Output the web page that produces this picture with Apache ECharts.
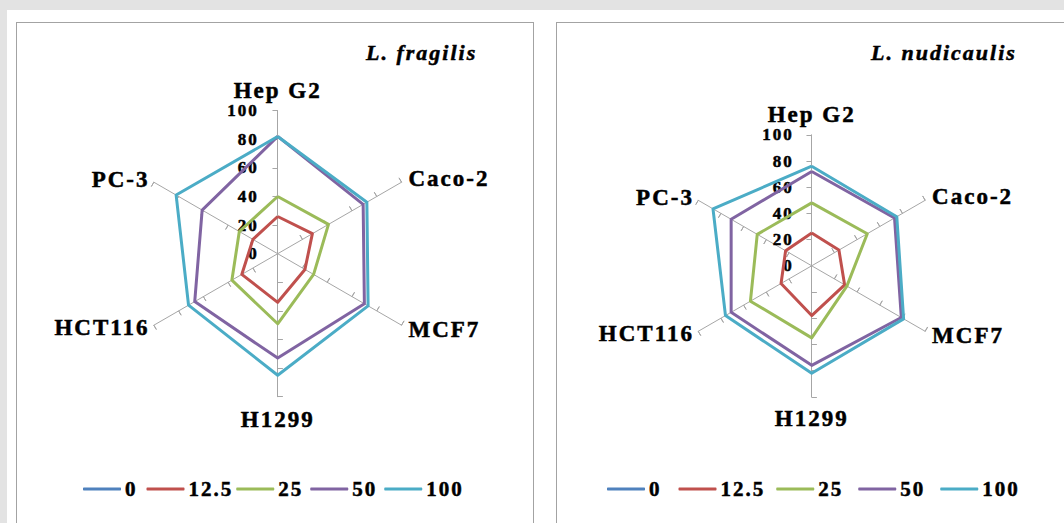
<!DOCTYPE html>
<html>
<head>
<meta charset="utf-8">
<script src="https://cdn.jsdelivr.net/npm/echarts@6/dist/echarts.min.js"></script>
<style>
html,body{margin:0;padding:0;width:1064px;height:523px;overflow:hidden;background:#e3e3e3;}
#sheet{position:absolute;left:7px;top:10px;width:1057px;height:513px;background:#fff;}
.panel{position:absolute;top:22px;width:518px;height:512px;border:1px solid #a3a3a3;box-sizing:border-box;background:#fff;}
#c1{left:16px;}
#c2{left:556px;}
.panel text{letter-spacing:2px;font-family:'Liberation Serif',serif !important;font-weight:bold !important;stroke:#000;stroke-width:0.5px;}
</style>
</head>
<body>
<div id="sheet"></div>
<div id="c1" class="panel"></div>
<div id="c2" class="panel"></div>
<script>
// ---- data (clockwise from top, as in the picture) ----
const categories = ['Hep G2', 'Caco-2', 'MCF7', 'H1299', 'HCT116', 'PC-3'];
const seriesNames = ['0', '12.5', '25', '50', '100'];
const axisMin = 0;
const axisMax = 100;
const axisInterval = 20;
const tickMarks = [20, 40, 60, 80, 100];

const titles = ['L. fragilis', 'L. nudicaulis'];

// L. fragilis
const fragilis_0    = [0, 0, 0, 0, 0, 0];
const fragilis_12_5 = [26, 28, 22, 34, 29, 20];
const fragilis_25   = [40, 41, 29, 49, 37, 31];
const fragilis_50   = [82, 69, 70, 73, 67, 61];
const fragilis_100  = [82, 72, 73, 85, 72, 82];

// L. nudicaulis
const nudicaulis_0    = [0, 0, 0, 0, 0, 0];
const nudicaulis_12_5 = [25, 24, 29, 38, 27, 23];
const nudicaulis_25   = [48, 49, 31, 55, 54, 48];
const nudicaulis_50   = [72, 73, 79, 76, 71, 71];
const nudicaulis_100  = [76, 75, 81, 82, 76, 87];

// ---- styles ----
const colors = ['#4F81BD', '#C0504D', '#9BBB59', '#8064A2', '#4BACC6'];
const FONT = 'Liberation Serif';
const AXIS_COLOR = '#a6a6a6';

// ECharts places radar indicators counter-clockwise from the top
const order = [0, 5, 4, 3, 2, 1];

function build(dom, title, vals, cfg) {
  const chart = echarts.init(dom, null, { renderer: 'svg' });
  const splitNumber = (axisMax - axisMin) / axisInterval;
  const baseRadar = {
    center: cfg.center,
    radius: cfg.radius,
    startAngle: 90,
    shape: 'polygon',
    splitNumber: splitNumber,
    splitLine: { show: false },
    splitArea: { show: false }
  };
  const radar1 = Object.assign({}, baseRadar, {
    indicator: order.map(i => ({
      name: categories[i], min: axisMin, max: axisMax,
      nameGap: cfg.gaps[i],
      axisLabel: { show: i === 0 }
    })),
    axisName: { color: '#000', fontFamily: FONT, fontWeight: 'bold', fontSize: 23 },
    nameGap: 6,
    axisLine: { show: true, lineStyle: { color: AXIS_COLOR, width: 1 } },
    axisTick: { show: true, length: 5, customValues: tickMarks, lineStyle: { color: AXIS_COLOR, width: 1 } },
    axisLabel: { show: true, color: '#000', fontFamily: FONT, fontWeight: 'bold', fontSize: 17, margin: cfg.labelMargin, showMinLabel: true, showMaxLabel: true }
  });
  const radar2 = Object.assign({}, baseRadar, {
    indicator: order.map(i => ({ name: categories[i], min: axisMin, max: axisMax })),
    axisName: { show: false },
    axisLine: { show: false },
    axisTick: { show: true, inside: true, length: 5, customValues: tickMarks, lineStyle: { color: AXIS_COLOR, width: 1 } },
    axisLabel: { show: false }
  });
  chart.setOption({
    animation: false,
    title: {
      text: title, left: cfg.titleLeft, top: 18, padding: 0,
      textStyle: { fontFamily: FONT, fontWeight: 'bold', fontStyle: 'italic', fontSize: 22, lineHeight: 22, color: '#000' }
    },
    legend: {
      data: seriesNames, left: cfg.legendLeft, top: 455, padding: 0,
      itemWidth: 38, itemHeight: 3, itemGap: cfg.legendGap, icon: 'roundRect',
      textStyle: { fontFamily: FONT, fontWeight: 'bold', fontSize: 21, lineHeight: 22, color: '#000', padding: [0, 0, 0, -1] },
      selectedMode: false
    },
    radar: [radar1, radar2],
    series: [{
      type: 'radar',
      radarIndex: 0,
      symbol: 'none',
      data: seriesNames.map((n, k) => ({
        name: n,
        value: order.map(i => vals[k][i]),
        itemStyle: { color: colors[k] },
        lineStyle: { color: colors[k], width: 3 }
      }))
    }]
  });
  return chart;
}

build(document.getElementById('c1'), titles[0],
  [fragilis_0, fragilis_12_5, fragilis_25, fragilis_50, fragilis_100],
  { center: [260.7, 230.7], radius: 143, gaps: [9, 8, 8, 11, 5, 5], labelMargin: 19,
    titleLeft: 349, legendLeft: 66, legendGap: 11 });

build(document.getElementById('c2'), titles[1],
  [nudicaulis_0, nudicaulis_12_5, nudicaulis_25, nudicaulis_50, nudicaulis_100],
  { center: [254.7, 242.8], radius: 131, gaps: [9, 8, 8, 10, 5, 5], labelMargin: 18,
    titleLeft: 314, legendLeft: 50, legendGap: 19 });
</script>
</body>
</html>
